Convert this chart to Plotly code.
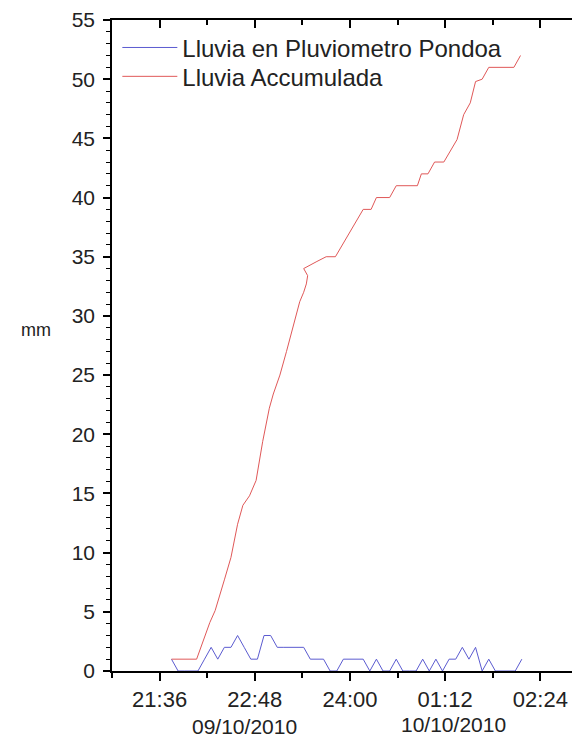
import pandas as pd
import plotly.graph_objects as go

# Blue series: rain per 5-min interval (mm), starting 21:45 on 09/10/2010
blue_start = "2010-10-09 21:45"
blue_values = [1, 0, 0, 0, 0, 1, 2, 1, 2, 2, 3, 2, 1, 1, 3, 3, 2, 2, 2, 2,
               2, 1, 1, 1, 0, 0, 1, 1, 1, 1, 0, 1, 0, 0, 1, 0, 0, 0, 1, 0,
               1, 0, 1, 1, 2, 1, 2, 0, 1, 0, 0, 0, 0, 1]
blue_times = pd.date_range(blue_start, periods=len(blue_values), freq="5min")

# Red series: accumulated rain (digitised vertices)
red_times = ["2010-10-09 21:45", "2010-10-09 22:04", "2010-10-09 22:14", "2010-10-09 22:18",
             "2010-10-09 22:25", "2010-10-09 22:30", "2010-10-09 22:35", "2010-10-09 22:39",
             "2010-10-09 22:44", "2010-10-09 22:49", "2010-10-09 22:54", "2010-10-09 22:59",
             "2010-10-09 23:02", "2010-10-09 23:07", "2010-10-09 23:12", "2010-10-09 23:17",
             "2010-10-09 23:22", "2010-10-09 23:25", "2010-10-09 23:27", "2010-10-09 23:28",
             "2010-10-09 23:25", "2010-10-09 23:35", "2010-10-09 23:42", "2010-10-09 23:49",
             "2010-10-10 00:10", "2010-10-10 00:16", "2010-10-10 00:20", "2010-10-10 00:30",
             "2010-10-10 00:35", "2010-10-10 00:51", "2010-10-10 00:54", "2010-10-10 00:59",
             "2010-10-10 01:04", "2010-10-10 01:11", "2010-10-10 01:21", "2010-10-10 01:26",
             "2010-10-10 01:31", "2010-10-10 01:35", "2010-10-10 01:40", "2010-10-10 01:45",
             "2010-10-10 02:04", "2010-10-10 02:09"]
red_values = [1, 1, 4.1, 5.1, 7.7, 9.6, 12.4, 14.0, 14.8, 16.1, 19.4, 22.2,
              23.4, 25.0, 27.0, 29.0, 31.2, 32.0, 32.7, 33.4, 34.0, 34.6, 35.0, 35.0,
              39.0, 39.0, 40.0, 40.0, 41.0, 41.0, 42.0, 42.0, 43.0, 43.0, 44.9, 47.0,
              48.0, 49.8, 50.0, 51.0, 51.0, 52.0]

tick_vals = ["2010-10-09 21:36", "2010-10-09 22:48", "2010-10-10 00:00",
             "2010-10-10 01:12", "2010-10-10 02:24"]
tick_text = ["21:36", "22:48", "24:00", "01:12", "02:24"]
minor_vals = ["2010-10-09 21:00", "2010-10-09 22:12", "2010-10-09 23:24",
              "2010-10-10 00:36", "2010-10-10 01:48"]
x_range = ["2010-10-09 21:00", "2010-10-10 02:54"]
y_range = [0, 55]

FONT = "Liberation Sans, Arial, sans-serif"

fig = go.Figure()
fig.add_trace(go.Scatter(x=blue_times, y=blue_values, mode="lines",
                         name="Lluvia en Pluviometro Pondoa", legend="legend",
                         line=dict(color="#5b5bd0", width=1)))
fig.add_trace(go.Scatter(x=red_times, y=red_values, mode="lines",
                         name="Lluvia Accumulada", legend="legend2",
                         line=dict(color="#e05858", width=1)))
# empty helper traces so that the mirrored top and right axes are drawn
fig.add_trace(go.Scatter(x=[], y=[], xaxis="x2", yaxis="y", showlegend=False,
                         hoverinfo="skip"))
fig.add_trace(go.Scatter(x=[], y=[], xaxis="x", yaxis="y2", showlegend=False,
                         hoverinfo="skip"))

legend_style = dict(xanchor="left", yanchor="middle", bgcolor="rgba(0,0,0,0)",
                    font=dict(size=24, color="#222"), itemwidth=55)

# The page body adds an 8px offset, so the figure is sized 8px smaller.
fig.update_layout(
    width=572, height=734,
    margin=dict(l=104, r=0, t=9, b=71),
    paper_bgcolor="white", plot_bgcolor="white",
    font=dict(family=FONT, color="#222", size=20),
    showlegend=True,
    legend=dict(x=0.0114, y=(671 - 45) / 654, **legend_style),
    legend2=dict(x=0.0114, y=(671 - 74) / 654, **legend_style),
    xaxis=dict(type="date", range=x_range, tickmode="array", tickvals=tick_vals,
               ticktext=tick_text, ticks="outside", ticklen=8, tickwidth=1.5,
               tickcolor="black", showline=True, linewidth=1.5, linecolor="black",
               showgrid=False, zeroline=False, tickfont=dict(size=22),
               minor=dict(tickmode="array", tickvals=minor_vals, ticks="outside",
                          ticklen=5, tickwidth=1.5, tickcolor="black")),
    xaxis2=dict(type="date", range=x_range, overlaying="x", side="top", anchor="y",
                tickmode="array", tickvals=tick_vals, ticks="inside", ticklen=8,
                tickwidth=1.5, tickcolor="black", showticklabels=False,
                showline=True, linewidth=1.5, linecolor="black", showgrid=False,
                zeroline=False,
                minor=dict(tickmode="array", tickvals=minor_vals, ticks="inside",
                           ticklen=5, tickwidth=1.5, tickcolor="black")),
    yaxis=dict(range=y_range, dtick=5, ticks="outside", ticklen=7, tickwidth=1.5,
               tickcolor="black", showline=True, linewidth=1.5, linecolor="black",
               showgrid=False, zeroline=False, tickfont=dict(size=21),
               ticklabelstandoff=4, ticklabeloverflow="allow",
               minor=dict(dtick=1, ticks="outside", ticklen=4, tickwidth=1,
                          tickcolor="black")),
    yaxis2=dict(range=y_range, overlaying="y", side="right", anchor="x", dtick=5,
                ticks="inside", ticklen=6, tickwidth=1.5, tickcolor="black",
                showticklabels=False, showline=False, showgrid=False, zeroline=False),
    annotations=[
        dict(text="mm", xref="paper", yref="paper", x=-0.162, y=0.5245,
             showarrow=False, font=dict(size=18, color="#222"),
             xanchor="center", yanchor="middle"),
        dict(text="09/10/2010", xref="paper", yref="paper", x=0.284, y=-0.0856,
             showarrow=False, font=dict(size=21, color="#222"),
             xanchor="center", yanchor="middle"),
        dict(text="10/10/2010", xref="paper", yref="paper", x=0.729, y=-0.082,
             showarrow=False, font=dict(size=21, color="#222"),
             xanchor="center", yanchor="middle"),
    ],
)

fig.write_html("out.html")
